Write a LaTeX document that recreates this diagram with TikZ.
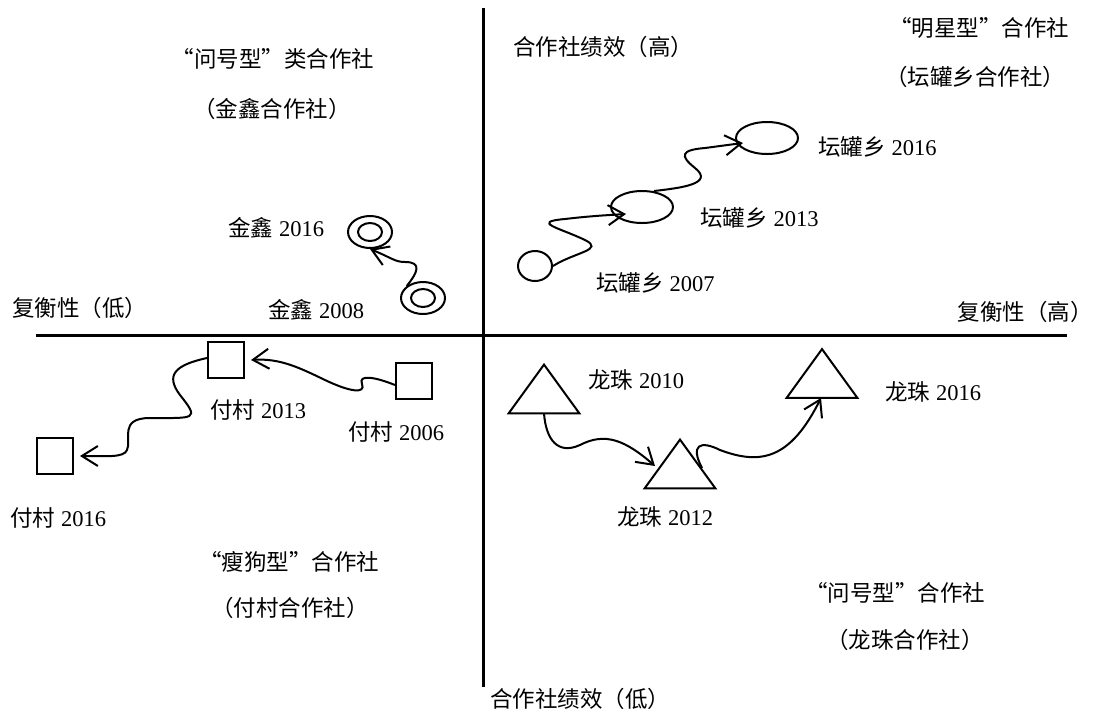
\documentclass[tikz,border=0pt]{standalone}
\usepackage{fontspec}
\setmainfont{Liberation Serif}
\newfontfamily\cjk{Noto Sans CJK SC}
\usetikzlibrary{arrows.meta,shapes.geometric}
\begin{document}
\begin{tikzpicture}[x=0.5pt,y=-0.5pt,
  lbl/.style={font=\fontsize{11.25}{13}\selectfont, inner sep=0pt},
  axis/.style={line width=1.5pt},
  ln/.style={line width=1pt},
  arr/.style={line width=1pt, -{Straight Barb[length=8pt,width=10pt]}},
  oval/.style={draw, ellipse, line width=1pt, inner sep=0pt, minimum width=31pt, minimum height=16pt},
  dot/.style={draw, ellipse, line width=1pt, inner sep=0pt, minimum width=17pt, minimum height=15pt},
  ring/.style={draw, ellipse, line width=1pt, inner sep=0pt, minimum width=22pt, minimum height=16pt},
  sq/.style={draw, rectangle, line width=1pt, inner sep=0pt, minimum size=18pt},
  tri/.style={rectangle, inner sep=0pt, minimum width=35pt, minimum height=24pt}
]
\useasboundingbox (0,0) rectangle (1095,713);

% axes
\coordinate (ytop) at (483,8);
\coordinate (ybot) at (483,687);
\coordinate (xl) at (36,335);
\coordinate (xr) at (1067,335);
\draw[axis] (ytop) -- (ybot);
\draw[axis] (xl) -- (xr);

% axis labels
\node[lbl, anchor=west] (yhi) at (513,47) {\cjk 合作社绩效（高）};
\node[lbl, anchor=west] (ylo) at (490,699) {\cjk 合作社绩效（低）};
\node[lbl, anchor=west] (xlo) at (12,308) {\cjk 复衡性（低）};
\node[lbl, anchor=east] (xhi) at (1093,312) {\cjk 复衡性（高）};

% quadrant titles
\node[lbl] (q1a) at (273,59) {\cjk “问号型”类合作社};
\node[lbl] (q1b) at (272,109) {\cjk （金鑫合作社）};
\node[lbl] (q2a) at (979,28) {\cjk “明星型”合作社};
\node[lbl] (q2b) at (975,77) {\cjk （坛罐乡合作社）};
\node[lbl] (q3a) at (289,562) {\cjk “瘦狗型”合作社};
\node[lbl] (q3b) at (290,608) {\cjk （付村合作社）};
\node[lbl] (q4a) at (895,593) {\cjk “问号型”合作社};
\node[lbl] (q4b) at (905,640) {\cjk （龙珠合作社）};

% Tanguanxiang (top right)
\node[dot]  (t07) at (535,266) {};
\node[oval] (t13) at (642,207) {};
\node[oval] (t16) at (767,138) {};
\node[lbl, anchor=west] (lt07) at (596,283) {{\cjk 坛罐乡} 2007};
\node[lbl, anchor=west] (lt13) at (700,218) {{\cjk 坛罐乡} 2013};
\node[lbl, anchor=west] (lt16) at (818,147) {{\cjk 坛罐乡} 2016};
\draw[arr] (t07.east) .. controls (575,252) and (605,250) .. (585,240)
  .. controls (560,228) and (530,222) .. (565,219)
  .. controls (590,216) and (610,215) .. ([shift={(-16,7)}]t13.center);
\draw[arr] ([shift={(12,-16)}]t13.center) .. controls (680,188) and (715,184) .. (695,168)
  .. controls (680,156) and (680,150) .. (705,148)
  .. controls (720,146) and (735,144) .. ([shift={(-24,5)}]t16.center);

% Jinxin (top left)
\node[ring] (j16) at (370,232) {};
\node[ring] (j08) at (423,298) {};
\draw[ln] (j16.center) ellipse [x radius=6pt, y radius=4.5pt];
\draw[ln] (j08.center) ellipse [x radius=6pt, y radius=4.5pt];
\node[lbl, anchor=west] (lj16) at (228,228) {{\cjk 金鑫} 2016};
\node[lbl, anchor=west] (lj08) at (268,310) {{\cjk 金鑫} 2008};
\draw[arr] (j08.north west) .. controls (418,272) and (422,262) .. (405,262)
  .. controls (395,262) and (392,258) .. (j16.south);

% Fucun (bottom left)
\node[sq] (f13) at (226,360) {};
\node[sq] (f06) at (414,381) {};
\node[sq] (f16) at (55,456) {};
\node[lbl, anchor=west] (lf13) at (210,410) {{\cjk 付村} 2013};
\node[lbl, anchor=west] (lf06) at (348,432) {{\cjk 付村} 2006};
\node[lbl, anchor=west] (lf16) at (10,518) {{\cjk 付村} 2016};
\draw[arr] ([yshift=-2pt]f06.west) .. controls (375,377) and (358,374) .. (362,384)
  .. controls (366,394) and (350,392) .. (325,380)
  .. controls (300,368) and (280,358) .. ([xshift=3pt]f13.east);
\draw[arr] ([yshift=1pt]f13.west) .. controls (175,365) and (165,375) .. (180,395)
  .. controls (200,420) and (195,418) .. (150,418)
  .. controls (118,418) and (132,440) .. (127,450)
  .. controls (124,458) and (105,456) .. ([xshift=3pt]f16.east);

% Longzhu (bottom right)
\node[tri] (l10) at (544,389) {};
\node[tri] (l12) at (680,464) {};
\node[tri] (l16) at (822,373.5) {};
\draw[ln] (l10.south west) -- (l10.south east) -- (l10.north) -- cycle;
\draw[ln] (l12.south west) -- (l12.south east) -- (l12.north) -- cycle;
\draw[ln] (l16.south west) -- (l16.south east) -- (l16.north) -- cycle;
\node[lbl, anchor=west] (ll10) at (588,380) {{\cjk 龙珠} 2010};
\node[lbl, anchor=west] (ll12) at (617,517) {{\cjk 龙珠} 2012};
\node[lbl, anchor=west] (ll16) at (885,392) {{\cjk 龙珠} 2016};
\draw[arr] (l10.south) .. controls (546,440) and (558,455) .. (580,445)
  .. controls (605,432) and (625,440) .. ([shift={(-25,2)}]l12.center);
\draw[arr] ([shift={(22,4)}]l12.center) .. controls (690,445) and (700,440) .. (720,450)
  .. controls (760,465) and (790,460) .. ([xshift=-0.5pt]l16.south);

\end{tikzpicture}
\end{document}
